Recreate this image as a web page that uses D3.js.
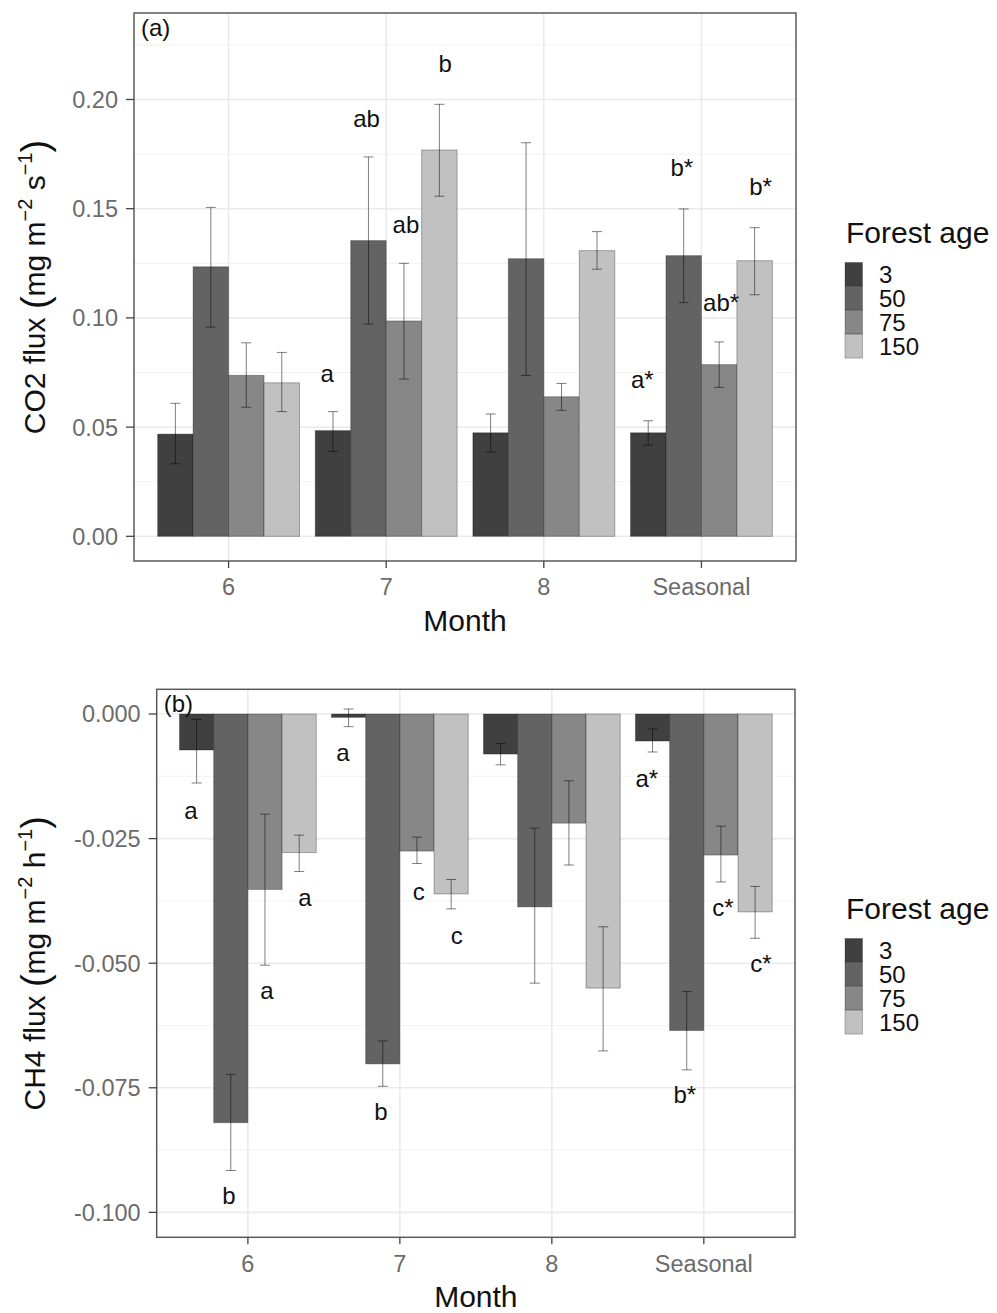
<!DOCTYPE html>
<html>
<head>
<meta charset="utf-8">
<script src="https://cdn.jsdelivr.net/npm/d3@7"></script>
<style>
  body { margin: 0; background: #fff; }
  svg text { font-family: "Liberation Sans", Arial, sans-serif; }
</style>
</head>
<body>
<div id="chart"></div>
<script>
// categories
var months = ["6", "7", "8", "Seasonal"];
var ages = ["3", "50", "75", "150"];

// CO2 flux (mg m-2 s-1), rows = month, cols = forest age
var co2Mean = [
  [0.0468, 0.1234, 0.0737, 0.0703],
  [0.0484, 0.1354, 0.0986, 0.1769],
  [0.0474, 0.1271, 0.0639, 0.1308],
  [0.0474, 0.1285, 0.0786, 0.1262]
];
var co2Low = [
  [0.0332, 0.0958, 0.0591, 0.0571],
  [0.0389, 0.0972, 0.0720, 0.1557],
  [0.0386, 0.0737, 0.0577, 0.1223],
  [0.0417, 0.1070, 0.0682, 0.1106]
];
var co2High = [
  [0.0609, 0.1506, 0.0886, 0.0842],
  [0.0571, 0.1737, 0.1250, 0.1978],
  [0.0560, 0.1802, 0.0700, 0.1395],
  [0.0529, 0.1499, 0.0890, 0.1413]
];
var co2LabelText = [
  ["", "", "", ""],
  ["a", "ab", "ab", "b"],
  ["", "", "", ""],
  ["a*", "b*", "ab*", "b*"]
];
var co2LabelY = [
  [null, null, null, null],
  [0.0748, 0.1915, 0.1430, 0.2167],
  [null, null, null, null],
  [0.0720, 0.1687, 0.1073, 0.1604]
];

// CH4 flux (mg m-2 h-1)
var ch4Mean = [
  [-0.00722, -0.0820, -0.0352, -0.0278],
  [-0.00067, -0.0702, -0.0275, -0.0361],
  [-0.00803, -0.0387, -0.0219, -0.0550],
  [-0.00542, -0.0635, -0.0283, -0.0397]
];
var ch4Low = [
  [-0.01384, -0.0916, -0.0504, -0.0316],
  [-0.00254, -0.0747, -0.0300, -0.0391],
  [-0.0102, -0.0540, -0.0303, -0.0676],
  [-0.00762, -0.0714, -0.0337, -0.0450]
];
var ch4High = [
  [-0.00107, -0.0723, -0.0201, -0.0243],
  [0.0010, -0.0656, -0.0247, -0.0332],
  [-0.00589, -0.0229, -0.0134, -0.0427],
  [-0.0030, -0.0557, -0.0225, -0.0346]
];
var ch4LabelText = [
  ["a", "b", "a", "a"],
  ["a", "b", "c", "c"],
  ["", "", "", ""],
  ["a*", "b*", "c*", "c*"]
];
var ch4LabelY = [
  [-0.0193, -0.0965, -0.0554, -0.0368],
  [-0.00776, -0.0798, -0.0355, -0.0444],
  [null, null, null, null],
  [-0.0129, -0.0764, -0.0387, -0.0500]
];

var co2Ticks = [0, 0.05, 0.10, 0.15, 0.20];
var co2Minor = [0.025, 0.075, 0.125, 0.175, 0.225];
var ch4Ticks = [0, -0.025, -0.05, -0.075, -0.1];
var ch4Minor = [-0.0125, -0.0375, -0.0625, -0.0875];

var fills = ["#404040", "#636363", "#878787", "#c1c1c1"];

var svg = d3.select('#chart').append('svg')
  .attr('width', 997)
  .attr('height', 1313);

function drawPanel(p) {
  var g = svg.append('g');
  // discrete axis with 0.6 unit expansion on each side (ggplot style)
  var x = d3.scalePoint()
    .domain(months)
    .range([p.left, p.right])
    .padding(0.6);
  var unit = x.step();
  var y = d3.scaleLinear().domain(p.yDomain).range([p.bottom, p.top]);

  var xBar = d3.scaleBand().domain(ages).range([-unit * 0.45, unit * 0.45]);
  var xLab = d3.scaleBand().domain(ages).range([-unit * 0.5, unit * 0.5]);
  var barW = xBar.bandwidth();

  // grid
  g.selectAll('.minor').data(p.minor).enter().append('line')
    .attr('x1', p.left).attr('x2', p.right)
    .attr('y1', function (d) { return y(d); }).attr('y2', function (d) { return y(d); })
    .attr('stroke', '#f2f2f2').attr('stroke-width', 1);
  g.selectAll('.major').data(p.ticks).enter().append('line')
    .attr('x1', p.left).attr('x2', p.right)
    .attr('y1', function (d) { return y(d); }).attr('y2', function (d) { return y(d); })
    .attr('stroke', '#ebebeb').attr('stroke-width', 1.6);
  g.selectAll('.vmajor').data(months).enter().append('line')
    .attr('x1', function (d) { return x(d); }).attr('x2', function (d) { return x(d); })
    .attr('y1', p.top).attr('y2', p.bottom)
    .attr('stroke', '#ebebeb').attr('stroke-width', 1.6);

  var rows = [];
  months.forEach(function (m, i) {
    ages.forEach(function (a, j) {
      rows.push({ m: m, a: a, j: j, v: p.mean[i][j], lo: p.low[i][j], hi: p.high[i][j],
        lab: p.labText[i][j], ly: p.labY[i][j] });
    });
  });
  var mid = function (d) { return x(d.m) + xBar(d.a) + barW / 2; };

  // bars
  g.selectAll('rect.bar').data(rows).enter().append('rect')
    .attr('class', 'bar')
    .attr('x', function (d) { return x(d.m) + xBar(d.a); })
    .attr('width', barW)
    .attr('y', function (d) { return Math.min(y(d.v), y(0)); })
    .attr('height', function (d) { return Math.abs(y(d.v) - y(0)); })
    .attr('fill', function (d) { return fills[d.j]; })
    .attr('stroke', 'rgba(0,0,0,0.3)')
    .attr('stroke-width', 1);

  // error bars
  var cap = 5;
  var eb = g.selectAll('g.err').data(rows).enter().append('g')
    .attr('stroke', 'rgba(0,0,0,0.5)').attr('stroke-width', 1);
  eb.append('line')
    .attr('x1', mid).attr('x2', mid)
    .attr('y1', function (d) { return y(d.lo); }).attr('y2', function (d) { return y(d.hi); });
  ['lo', 'hi'].forEach(function (k) {
    eb.append('line')
      .attr('x1', function (d) { return mid(d) - cap; })
      .attr('x2', function (d) { return mid(d) + cap; })
      .attr('y1', function (d) { return y(d[k]); }).attr('y2', function (d) { return y(d[k]); });
  });

  // letters
  g.selectAll('text.lab').data(rows.filter(function (d) { return d.lab; })).enter().append('text')
    .attr('x', function (d) { return x(d.m) + xLab(d.a) + xLab.bandwidth() / 2; })
    .attr('y', function (d) { return y(d.ly); })
    .attr('dy', '0.36em')
    .attr('text-anchor', 'middle')
    .attr('font-size', 24)
    .attr('fill', '#111')
    .text(function (d) { return d.lab; });

  // panel border
  g.append('rect')
    .attr('x', p.left).attr('y', p.top)
    .attr('width', p.right - p.left).attr('height', p.bottom - p.top)
    .attr('fill', 'none').attr('stroke', '#5a5a5a').attr('stroke-width', 1.5);

  // y axis
  g.selectAll('.yt').data(p.ticks).enter().append('line')
    .attr('x1', p.left - 8).attr('x2', p.left)
    .attr('y1', function (d) { return y(d); }).attr('y2', function (d) { return y(d); })
    .attr('stroke', '#444').attr('stroke-width', 1.3);
  g.selectAll('.ytl').data(p.ticks).enter().append('text')
    .attr('x', p.left - 16)
    .attr('y', function (d) { return y(d); })
    .attr('dy', '0.36em')
    .attr('text-anchor', 'end')
    .attr('font-size', 23.5)
    .attr('fill', '#6b6b6b')
    .text(function (d) { return d.toFixed(p.digits).replace('-0.000', '0.000'); });

  // x axis
  g.selectAll('.xt').data(months).enter().append('line')
    .attr('x1', function (d) { return x(d); }).attr('x2', function (d) { return x(d); })
    .attr('y1', p.bottom).attr('y2', p.bottom + 7)
    .attr('stroke', '#444').attr('stroke-width', 1.3);
  g.selectAll('.xtl').data(months).enter().append('text')
    .attr('x', function (d) { return x(d); })
    .attr('y', p.bottom + 26)
    .attr('dy', '0.36em')
    .attr('text-anchor', 'middle')
    .attr('font-size', 23.5)
    .attr('fill', '#6b6b6b')
    .text(function (d) { return d; });

  g.append('text')
    .attr('x', (p.left + p.right) / 2)
    .attr('y', p.bottom + 70)
    .attr('text-anchor', 'middle')
    .attr('font-size', 30)
    .attr('fill', '#111')
    .text('Month');

  // y title
  var yt = g.append('text')
    .attr('transform', 'translate(45,' + ((p.top + p.bottom) / 2) + ') rotate(-90)')
    .attr('text-anchor', 'middle')
    .attr('font-size', 30)
    .attr('fill', '#111');
  yt.append('tspan').text(p.gas + ' flux ');
  yt.append('tspan').attr('font-size', 38).attr('dy', 3).text('(');
  yt.append('tspan').attr('dy', -3).text('mg m');
  yt.append('tspan').attr('font-size', 20).attr('dy', -13).text('\u22122');
  yt.append('tspan').attr('dy', 13).text(' ' + p.unit);
  yt.append('tspan').attr('font-size', 20).attr('dy', -13).text('\u22121');
  yt.append('tspan').attr('font-size', 38).attr('dy', 16).text(')');

  // panel tag
  g.append('text')
    .attr('x', p.left + 7).attr('y', p.top + 14)
    .attr('dy', '0.36em')
    .attr('font-size', 24)
    .attr('fill', '#111')
    .text(p.tag);

  // legend
  var lg = g.append('g');
  lg.append('text')
    .attr('x', 846).attr('y', p.legendTop)
    .attr('font-size', 30).attr('fill', '#111')
    .text('Forest age');
  var keyH = 23.9;
  lg.selectAll('rect').data(ages).enter().append('rect')
    .attr('x', 845).attr('y', function (d, i) { return p.legendTop + 19.5 + i * keyH; })
    .attr('width', 17.5).attr('height', keyH)
    .attr('fill', function (d, i) { return fills[i]; })
    .attr('stroke', 'rgba(0,0,0,0.25)').attr('stroke-width', 1);
  lg.selectAll('text.lk').data(ages).enter().append('text')
    .attr('x', 879).attr('y', function (d, i) { return p.legendTop + 19.5 + (i + 0.5) * keyH; })
    .attr('dy', '0.35em')
    .attr('font-size', 24).attr('fill', '#111')
    .text(function (d) { return d; });
}

drawPanel({
  left: 134, right: 796, top: 13, bottom: 561,
  yDomain: [-0.0113, 0.2396],
  mean: co2Mean, low: co2Low, high: co2High,
  labText: co2LabelText, labY: co2LabelY,
  ticks: co2Ticks, minor: co2Minor, digits: 2,
  gas: 'CO2', unit: 's', tag: '(a)', legendTop: 243
});

drawPanel({
  left: 156.7, right: 795, top: 689.3, bottom: 1237.3,
  yDomain: [-0.105, 0.00496],
  mean: ch4Mean, low: ch4Low, high: ch4High,
  labText: ch4LabelText, labY: ch4LabelY,
  ticks: ch4Ticks, minor: ch4Minor, digits: 3,
  gas: 'CH4', unit: 'h', tag: '(b)', legendTop: 919
});
</script>
</body>
</html>
